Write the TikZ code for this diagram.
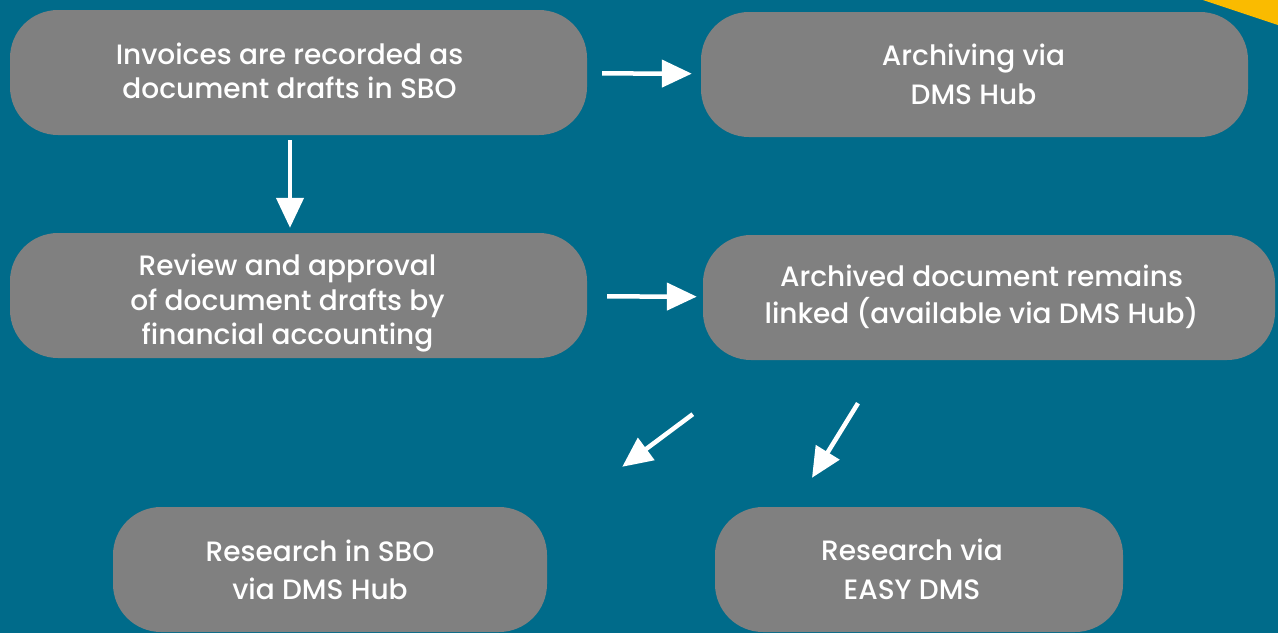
\documentclass[tikz,border=0pt]{standalone}
\usepackage{fontspec}
\setmainfont{Poppins}[UprightFont={* Medium}]
\usetikzlibrary{arrows.meta}
\definecolor{bgteal}{RGB}{0,107,138}
\definecolor{boxgray}{RGB}{128,128,128}
\definecolor{accentyellow}{RGB}{250,187,0}
% text block shifted left by half of #1, down by #2 (box size kept)
\newcommand{\shiftedtext}[3]{\raisebox{-#2}[\height][\depth]{\begin{tabular}{@{}c@{\hspace{#1}}}#3\end{tabular}}}
\begin{document}
\begin{tikzpicture}[x=1pt,y=-1pt,
  stepbox/.style={draw=none, fill=boxgray, rounded corners=48pt, inner sep=0pt,
    minimum height=125pt, text=white, align=center,
    font=\fontsize{28}{34.5}\selectfont},
  arr/.style={draw=white, line width=4.5pt, -{Triangle[length=30pt,width=27pt]}}]
\useasboundingbox (0,0) rectangle (1278,633);
\fill[bgteal] (0,0) rectangle (1278,633);
\fill[accentyellow] (1203,0) -- (1278,0) -- (1278,25) -- cycle;

\node[stepbox, minimum width=577pt] (b1) at (298.5,72.5) {\shiftedtext{18pt}{2pt}{Invoices are recorded as\\document drafts in SBO}};
\node[stepbox, minimum width=547pt] (b2) at (974.5,74.5) {\shiftedtext{2pt}{3.5pt}{Archiving via\\[4pt]DMS Hub}};
\node[stepbox, minimum width=577pt] (b3) at (298.5,295.5) {\shiftedtext{22pt}{8pt}{Review and approval\\of document drafts by\\financial accounting}};
\node[stepbox, minimum width=572pt] (b4) at (989,297.5) {\shiftedtext{15pt}{0.5pt}{Archived document remains\\linked (available via DMS Hub)}};
\node[stepbox, minimum width=434pt] (b5) at (330,569.5) {\shiftedtext{20pt}{4pt}{Research in SBO\\[4pt]via DMS Hub}};
\node[stepbox, minimum width=408pt] (b6) at (919,569.5) {\shiftedtext{14pt}{3.5pt}{Research via\\[4pt]EASY DMS}};

\draw[arr, shorten <=15pt, shorten >=9pt] (b1) -- (b2);
\draw[arr] ([xshift=-8.5pt,yshift=-5pt]b1.south) -- ([xshift=-8.5pt,yshift=5pt]b3.north);
\draw[arr, shorten <=20pt, shorten >=6pt] (b3) -- (b4);
\draw[arr] ([shift={(-10pt,-54pt)}]b4.south west) -- ([shift={(75pt,40pt)}]b5.north east);
\draw[arr] ([shift={(-131pt,-43pt)}]b4.south) -- ([shift={(-107pt,29pt)}]b6.north);
\end{tikzpicture}
\end{document}
